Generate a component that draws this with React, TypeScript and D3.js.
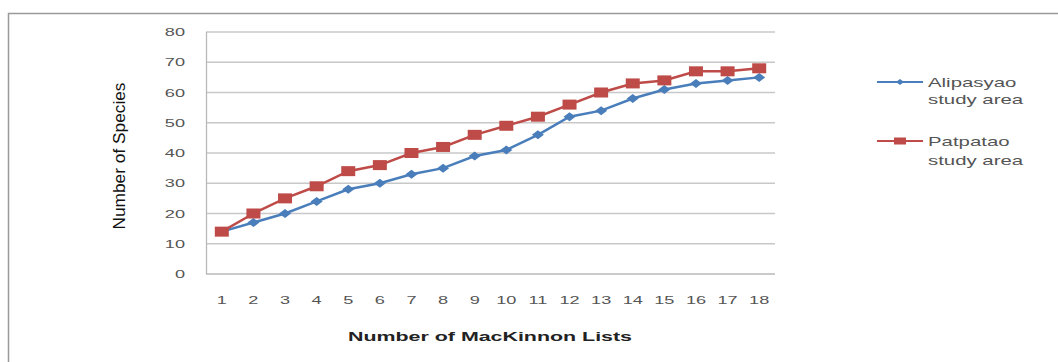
import React from "react";
import * as d3 from "d3";

const categories = [1, 2, 3, 4, 5, 6, 7, 8, 9, 10, 11, 12, 13, 14, 15, 16, 17, 18];
const alipasyao = [14, 17, 20, 24, 28, 30, 33, 35, 39, 41, 46, 52, 54, 58, 61, 63, 64, 65];
const patpatao = [14, 20, 25, 29, 34, 36, 40, 42, 46, 49, 52, 56, 60, 63, 64, 67, 67, 68];
const yTicks = [0, 10, 20, 30, 40, 50, 60, 70, 80];
const seriesNames = [["Alipasyao", "study area"], ["Patpatao", "study area"]];

const BLUE = "#4a7ebb";
const RED = "#be4b48";
const FONT = "'Liberation Sans', Arial, sans-serif";

function SText({ x, y, sx = 1.65, anchor = "start", size = 11, weight = "normal", fill = "#444", children }: any) {
  return (
    <text
      transform={`translate(${x},${y}) scale(${sx},1)`}
      textAnchor={anchor}
      fontSize={size}
      fontWeight={weight}
      fill={fill}
      fontFamily={FONT}
    >
      {children}
    </text>
  );
}

export default function App() {
  const x = d3.scaleBand<number>().domain(categories).range([206, 775]);
  const y = d3.scaleLinear().domain([0, 80]).range([274, 32]);
  const cx = (c: number) => (x(c) as number) + x.bandwidth() / 2;
  const line = d3
    .line<number>()
    .x((_, i) => cx(categories[i]))
    .y((v) => y(v));

  const diamond = (px: number, py: number, w = 6, h = 4.5) =>
    `M${px - w},${py} L${px},${py - h} L${px + w},${py} L${px},${py + h} Z`;

  return (
    <svg
      width={1058}
      height={362}
      style={{ position: "absolute", left: 0, top: 0, display: "block" }}
    >
      <rect x={0} y={0} width={1058} height={362} fill="#fff" />
      <rect x={8.5} y={13.5} width={1070} height={370} fill="none" stroke="#9a9a9a" strokeWidth={1.5} />

      {/* gridlines */}
      {yTicks.map((t) => (
        <line key={t} x1={206} x2={775} y1={y(t)} y2={y(t)} stroke={t === 0 ? "#b8b8b8" : "#c8c8c8"} strokeWidth={1.3} />
      ))}
      <line x1={206.5} x2={206.5} y1={y(80)} y2={y(0)} stroke="#b8b8b8" strokeWidth={1.3} />

      {/* y tick labels */}
      {yTicks.map((t) => (
        <SText key={t} x={185} y={y(t) + 4} anchor="end" size={11} fill="#555">
          {t}
        </SText>
      ))}

      {/* x tick labels */}
      {categories.map((c) => (
        <SText key={c} x={cx(c)} y={304} anchor="middle" size={11} fill="#555">
          {c}
        </SText>
      ))}

      {/* axis titles */}
      <text
        x={490}
        y={341}
        textAnchor="middle"
        fontSize={13}
        fontWeight="bold"
        fill="#222"
        fontFamily={FONT}
        textLength={284}
        lengthAdjust="spacingAndGlyphs"
      >
        Number of MacKinnon Lists
      </text>
      <text
        transform={`translate(125,156) scale(1.15,1) rotate(-90)`}
        textAnchor="middle"
        fontSize={15}
        fill="#111"
        fontFamily={FONT}
        textLength={147}
        lengthAdjust="spacingAndGlyphs"
      >
        Number of Species
      </text>

      {/* series */}
      <path d={line(alipasyao) || ""} fill="none" stroke={BLUE} strokeWidth={2.5} />
      {alipasyao.map((v, i) => (
        <path key={i} d={diamond(cx(categories[i]), y(v))} fill={BLUE} />
      ))}
      <path d={line(patpatao) || ""} fill="none" stroke={RED} strokeWidth={2.5} />
      {patpatao.map((v, i) => (
        <rect key={i} x={cx(categories[i]) - 7} y={y(v) - 5} width={14} height={10} fill={RED} />
      ))}

      {/* legend */}
      <line x1={877} x2={923} y1={82} y2={82} stroke={BLUE} strokeWidth={2} />
      <path d={diamond(900, 82, 4, 3)} fill={BLUE} />
      <SText x={928} y={87} size={12} sx={1.7} fill="#555">{seriesNames[0][0]}</SText>
      <SText x={928} y={104} size={12} sx={1.7} fill="#555">{seriesNames[0][1]}</SText>

      <line x1={877} x2={923} y1={141} y2={141} stroke={RED} strokeWidth={2} />
      <rect x={894} y={137.5} width={12} height={7} fill={RED} />
      <SText x={928} y={146} size={12} sx={1.7} fill="#555">{seriesNames[1][0]}</SText>
      <SText x={928} y={165} size={12} sx={1.7} fill="#555">{seriesNames[1][1]}</SText>
    </svg>
  );
}
